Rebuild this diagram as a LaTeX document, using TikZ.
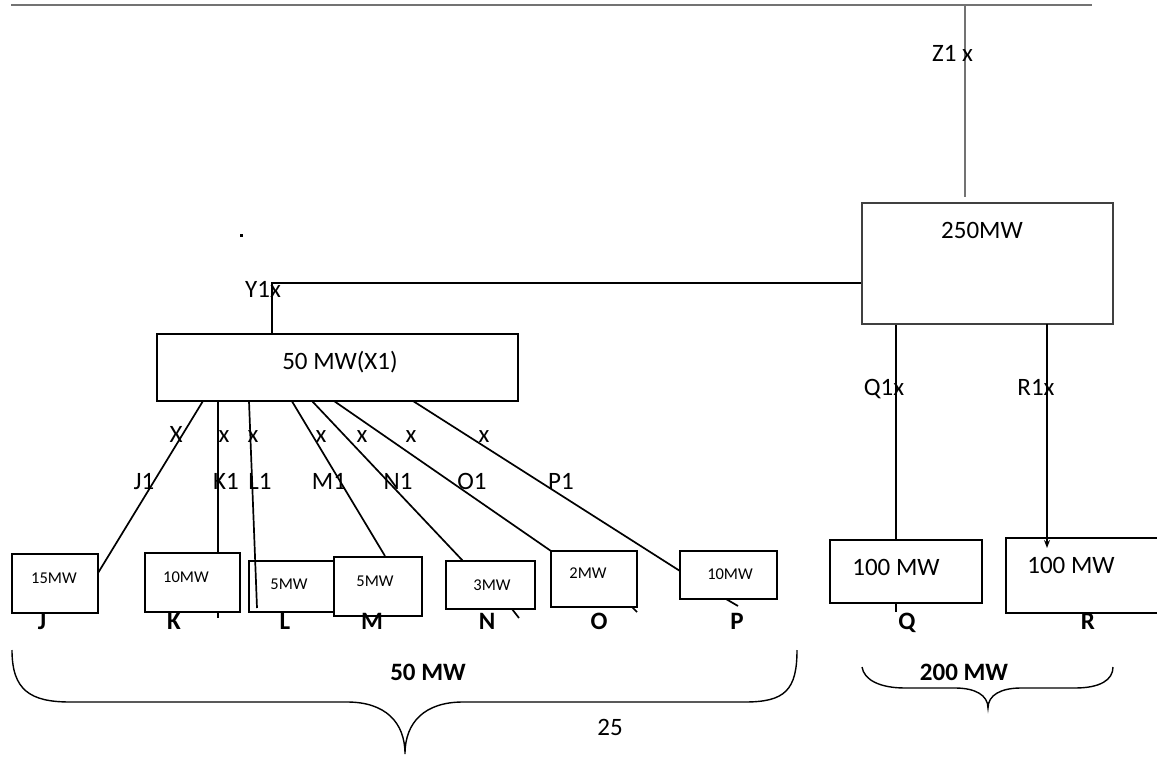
\documentclass[tikz,border=0pt]{standalone}
\usepackage{fontspec}
\setmainfont{Carlito}
\usetikzlibrary{arrows.meta,backgrounds}
\newcommand\lbfont{\fontsize{25}{29}\selectfont}
\newcommand\smfont{\fontsize{16.5}{19}\selectfont}
\tikzset{
  box/.style={draw, line width=1.7pt, fill=white, inner sep=0pt, outer sep=0pt, rectangle},
  lbl/.style={anchor=base, inner sep=0pt, font=\lbfont},
  sml/.style={anchor=base, inner sep=0pt, font=\smfont},
  bl/.style={anchor=base, inner sep=0pt, font=\lbfont\bfseries},
  wire/.style={line width=1.7pt},
  gwire/.style={line width=1.9pt, draw=black!55},
}
\begin{document}
\begin{tikzpicture}[x=1pt,y=-1pt]
\useasboundingbox (0,0) rectangle (1157,757);

% boxes
\node[box, draw=black!75, minimum width=251pt, minimum height=121pt] (B250) at (987.5,263.5) {};
\node[box, minimum width=361pt, minimum height=67pt] (X1) at (337.5,367.5) {};
\node[box, minimum width=86pt, minimum height=59pt] (J) at (55,583.5) {};
\node[box, minimum width=95pt, minimum height=59pt] (K) at (192.5,582.5) {};
\node[box, minimum width=86pt, minimum height=51pt] (L) at (292,586.5) {};
\node[box, minimum width=88pt, minimum height=59pt] (M) at (378,586.5) {};
\node[box, minimum width=89pt, minimum height=48pt] (N) at (490.5,585) {};
\node[box, minimum width=86pt, minimum height=56pt] (O) at (594,579) {};
\node[box, minimum width=97pt, minimum height=48pt] (P) at (728.5,575) {};
\node[box, minimum width=152pt, minimum height=63pt] (Q) at (906,571.5) {};
\node[box, minimum width=164pt, minimum height=75pt] (R) at (1088,575.5) {};

\coordinate (busL) at (11,5);
\coordinate (busR) at (1092,5);
\coordinate (zj) at (965,5);

\begin{scope}[on background layer]
\draw[gwire] (busL) -- (busR);
\draw[gwire] (zj) -- ([xshift=-22.5pt,yshift=6pt]B250.north);
\draw[wire] ([yshift=-19.5pt]B250.west) -| ([xshift=-65.5pt]X1.north);
\draw[wire] ([xshift=46pt]X1.south west) -- ([yshift=10.5pt]J.east);
\draw[wire] ([xshift=61pt]X1.south west) -- ([xshift=25.5pt,yshift=-6pt]K.south);
\draw[wire] ([xshift=133pt,yshift=3pt]X1.south west) -- ([xshift=7pt,yshift=1pt]M.north);
\draw[wire] ([xshift=155pt]X1.south west) -- ([xshift=17pt]N.north west);
\draw[wire] ([xshift=177pt]X1.south west) -- (O.north west);
\draw[wire] ([xshift=256pt]X1.south west) -- ([yshift=4pt]P.west);
\draw[wire] ([xshift=-91.5pt]B250.south) -- ([xshift=-10pt,yshift=-9pt]Q.south);
\draw[wire] ([xshift=21.5pt]N.south) -- ++(7,9);
\draw[wire] ([xshift=-5pt]O.south east) -- ++(5,5);
\draw[wire] ([xshift=-2.5pt]P.south) -- ++(12,7);
\end{scope}

\draw[wire] ([xshift=92pt]X1.south west) -- ([xshift=-35pt,yshift=4pt]L.south);
\draw[wire, -{Stealth[length=8pt,width=6pt]}] ([xshift=59.5pt]B250.south) -- ([xshift=-41pt,yshift=-10pt]R.north);

% stray mark
\fill (240,234) rectangle (243,236.5);

% box texts
\node[lbl] (t250) at (982,238) {250MW};
\node[lbl] (tX1) at (340,369) {50 MW(X1)};
\node[lbl] (tQ) at (896,575) {100 MW};
\node[lbl] (tR) at (1071,573) {100 MW};
\node[sml] (tJ) at (54,583) {15MW};
\node[sml] (tK) at (186,582) {10MW};
\node[sml] (tL) at (289,589) {5MW};
\node[sml] (tM) at (375,586) {5MW};
\node[sml] (tN) at (492,590) {3MW};
\node[sml] (tO) at (588,578) {2MW};
\node[sml] (tP) at (730,579) {10MW};

% switch labels
\node[lbl] (z1) at (952.5,62) {Z1 x};
\node[lbl] (y1) at (263,297) {Y1x};
\node[lbl] (q1) at (884,395) {Q1x};
\node[lbl] (r1) at (1036,395) {R1x};
\node[lbl] (xj) at (176,442) {X};
\node[lbl] (xk) at (224,442) {x};
\node[lbl] (xl) at (253,442) {x};
\node[lbl] (xm) at (321,442) {x};
\node[lbl] (xn) at (362,442) {x};
\node[lbl] (xo) at (411,442) {x};
\node[lbl] (xp) at (484,442) {x};
\node[lbl] (j1) at (144,489) {J1};
\node[lbl] (k1) at (226,489) {K1};
\node[lbl] (l1) at (260,489) {L1};
\node[lbl] (m1) at (329,489) {M1};
\node[lbl] (n1) at (398,489) {N1};
\node[lbl] (o1) at (472,489) {O1};
\node[lbl] (p1) at (561,489) {P1};

% letters
\node[bl] (lJ) at (42,629) {J};
\node[bl] (lK) at (174,629) {K};
\node[bl] (lL) at (285,629) {L};
\node[bl] (lM) at (372,629) {M};
\node[bl] (lN) at (487,629) {N};
\node[bl] (lO) at (599,629) {O};
\node[bl] (lP) at (737,629) {P};
\node[bl] (lQ) at (907,629) {Q};
\node[bl] (lR) at (1088,629) {R};

% braces
\draw[line width=1.4pt] (12,650) .. controls (12,690) and (30,702) .. (70,702) -- (347,702)
  .. controls (385,702) and (405,722) .. (405,754)
  .. controls (405,722) and (425,702) .. (463,702) -- (745,702)
  .. controls (785,702) and (797,690) .. (797,650);
\draw[line width=1.4pt] (862,667) .. controls (864,680) and (880,688) .. (905,688) -- (955,688)
  .. controls (975,688) and (988,695) .. (988,708)
  .. controls (988,695) and (1001,688) .. (1021,688) -- (1075,688)
  .. controls (1100,688) and (1113,680) .. (1113,667);
\node[bl] (s50) at (428,680) {50 MW};
\node[bl] (s200) at (964,680) {200 MW};
\node[lbl] (s25) at (610,735) {25};
\end{tikzpicture}
\end{document}
